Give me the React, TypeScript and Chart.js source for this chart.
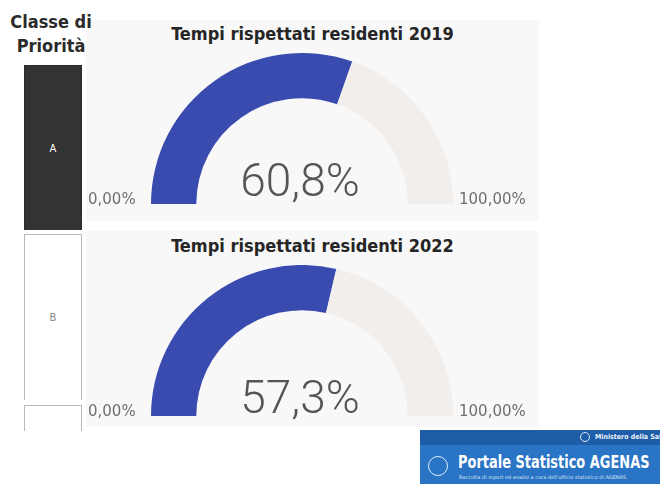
import React, { useEffect, useRef } from "react";
import { Chart, registerables } from "chart.js";

Chart.register(...registerables);

// ---- data ----
const gaugeTitles = ["Tempi rispettati residenti 2019", "Tempi rispettati residenti 2022"];
const respectedPct = [60.8, 57.3];
const gaugeMin = 0;
const gaugeMax = 100;
const minLabel = "0,00%";
const maxLabel = "100,00%";
const priorityClasses = ["A", "B", ""];
const headerLines = ["Classe di", "Priorità"];

const BLUE = "#3a4bb0";
const REST = "#f1eeeb";
const PANEL = "#f8f8f8";

const fmt = (v: number) => v.toFixed(1).replace(".", ",") + "%";

function Gauge({ value, style }: { value: number; style: React.CSSProperties }) {
  const ref = useRef<HTMLCanvasElement>(null);
  useEffect(() => {
    if (!ref.current) return;
    const chart = new Chart(ref.current, {
      type: "doughnut",
      data: {
        labels: ["Rispettati", "Restante"],
        datasets: [
          {
            data: [value - gaugeMin, gaugeMax - value],
            backgroundColor: [BLUE, REST],
            borderWidth: 0,
            hoverOffset: 0,
          },
        ],
      },
      options: {
        responsive: false,
        animation: false,
        rotation: -90,
        circumference: 180,
        cutout: "70%",
        layout: { padding: 0 },
        plugins: { legend: { display: false }, tooltip: { enabled: false } },
      },
    });
    return () => chart.destroy();
  }, [value]);
  return <canvas ref={ref} width={302} height={151} style={{ position: "absolute", ...style }} />;
}

const abs = (s: React.CSSProperties): React.CSSProperties => ({ position: "absolute", ...s });

export default function App() {
  const panels = [
    { top: 20, height: 201, titleTop: 25, arcTop: 53, valueTop: 157, labelTop: 192 },
    { top: 231, height: 196, titleTop: 237, arcTop: 265, valueTop: 374, labelTop: 404 },
  ];
  const boxes = [
    { top: 65, height: 165 },
    { top: 234, height: 166 },
    { top: 405, height: 26 },
  ];
  return (
    <div
      style={{
        position: "absolute",
        left: 0,
        top: 0,
        width: 660,
        height: 484,
        background: "#ffffff",
        overflow: "hidden",
        fontFamily: "'DejaVu Sans', sans-serif",
      }}
    >
      {/* gauge panels */}
      {panels.map((p, i) => (
        <React.Fragment key={i}>
          <div style={abs({ left: 86, top: p.top, width: 453, height: p.height, background: PANEL })} />
          <div
            style={abs({
              left: 86,
              top: p.titleTop,
              width: 453,
              textAlign: "center",
              fontFamily: "'DejaVu Sans Condensed', 'DejaVu Sans', sans-serif",
              fontWeight: 700,
              fontSize: 18,
              lineHeight: 1,
              color: "#252525",
            })}
          >
            {gaugeTitles[i]}
          </div>
          <Gauge value={respectedPct[i]} style={{ left: 151, top: p.arcTop }} />
          <div
            style={abs({
              left: 200,
              top: p.valueTop,
              width: 200,
              textAlign: "center",
              fontFamily: "Roboto, sans-serif",
              fontWeight: 300,
              fontSize: 46,
              lineHeight: 1,
              color: "#555555",
            })}
          >
            {fmt(respectedPct[i])}
          </div>
          <div
            style={abs({
              left: 88,
              top: p.labelTop,
              fontSize: 15,
              lineHeight: 1,
              color: "#6f6f6f",
            })}
          >
            {minLabel}
          </div>
          <div
            style={abs({
              left: 459,
              top: p.labelTop,
              fontSize: 15,
              lineHeight: 1,
              color: "#6f6f6f",
            })}
          >
            {maxLabel}
          </div>
        </React.Fragment>
      ))}

      {/* header left */}
      <div
        style={abs({
          left: 0,
          top: 10,
          width: 102,
          textAlign: "center",
          fontFamily: "'DejaVu Sans Condensed', 'DejaVu Sans', sans-serif",
          fontWeight: 700,
          fontSize: 18,
          lineHeight: "24px",
          color: "#2b2b2b",
        })}
      >
        {headerLines.map((l, i) => (
          <div key={i}>{l}</div>
        ))}
      </div>

      {/* priority boxes */}
      {priorityClasses.map((c, i) => {
        const b = boxes[i];
        const dark = i === 0;
        const last = i === priorityClasses.length - 1;
        return (
          <div
            key={i}
            style={abs({
              left: 24,
              top: b.top,
              width: 58,
              height: b.height,
              boxSizing: "border-box",
              background: dark ? "#333333" : "#ffffff",
              border: dark ? "1px solid #2a2a2a" : "1px solid #b9b9b9",
              borderBottom: last ? "none" : undefined,
              display: "flex",
              alignItems: "center",
              justifyContent: "center",
              fontSize: 10,
              color: dark ? "#ffffff" : "#888888",
              fontFamily: "'DejaVu Sans', sans-serif",
            })}
          >
            {c}
          </div>
        );
      })}

      {/* logo banner */}
      <div style={abs({ left: 420, top: 430, width: 240, height: 54, background: "#2a74c6" })} />
      <div style={abs({ left: 420, top: 430, width: 240, height: 15, background: "#1e5da8" })} />
      <div
        style={abs({
          left: 580,
          top: 432,
          width: 10,
          height: 10,
          borderRadius: "50%",
          border: "1px solid #dfe9f7",
          boxSizing: "border-box",
        })}
      />
      <div
        style={abs({
          left: 595,
          top: 433,
          fontSize: 7,
          lineHeight: "9px",
          fontWeight: 700,
          color: "#eaf1fb",
          whiteSpace: "nowrap",
          fontFamily: "'DejaVu Sans Condensed', sans-serif",
        })}
      >
        Ministero della Salute
      </div>
      <div
        style={abs({
          left: 428,
          top: 456,
          width: 20,
          height: 20,
          borderRadius: "50%",
          border: "1.5px solid #e3edf9",
          boxSizing: "border-box",
        })}
      />
      <div
        style={abs({
          left: 458,
          top: 451,
          fontSize: 18,
          lineHeight: "22px",
          fontWeight: 700,
          color: "#ffffff",
          whiteSpace: "nowrap",
          transform: "scaleX(0.8)",
          transformOrigin: "left top",
          fontFamily: "'DejaVu Sans Condensed', sans-serif",
        })}
      >
        Portale Statistico AGENAS
      </div>
      <div
        style={abs({
          left: 459,
          top: 474,
          fontSize: 5,
          lineHeight: "6px",
          color: "#d5e3f5",
          whiteSpace: "nowrap",
        })}
      >
        Raccolta di report ed analisi a cura dell'ufficio statistico di AGENAS
      </div>
    </div>
  );
}
